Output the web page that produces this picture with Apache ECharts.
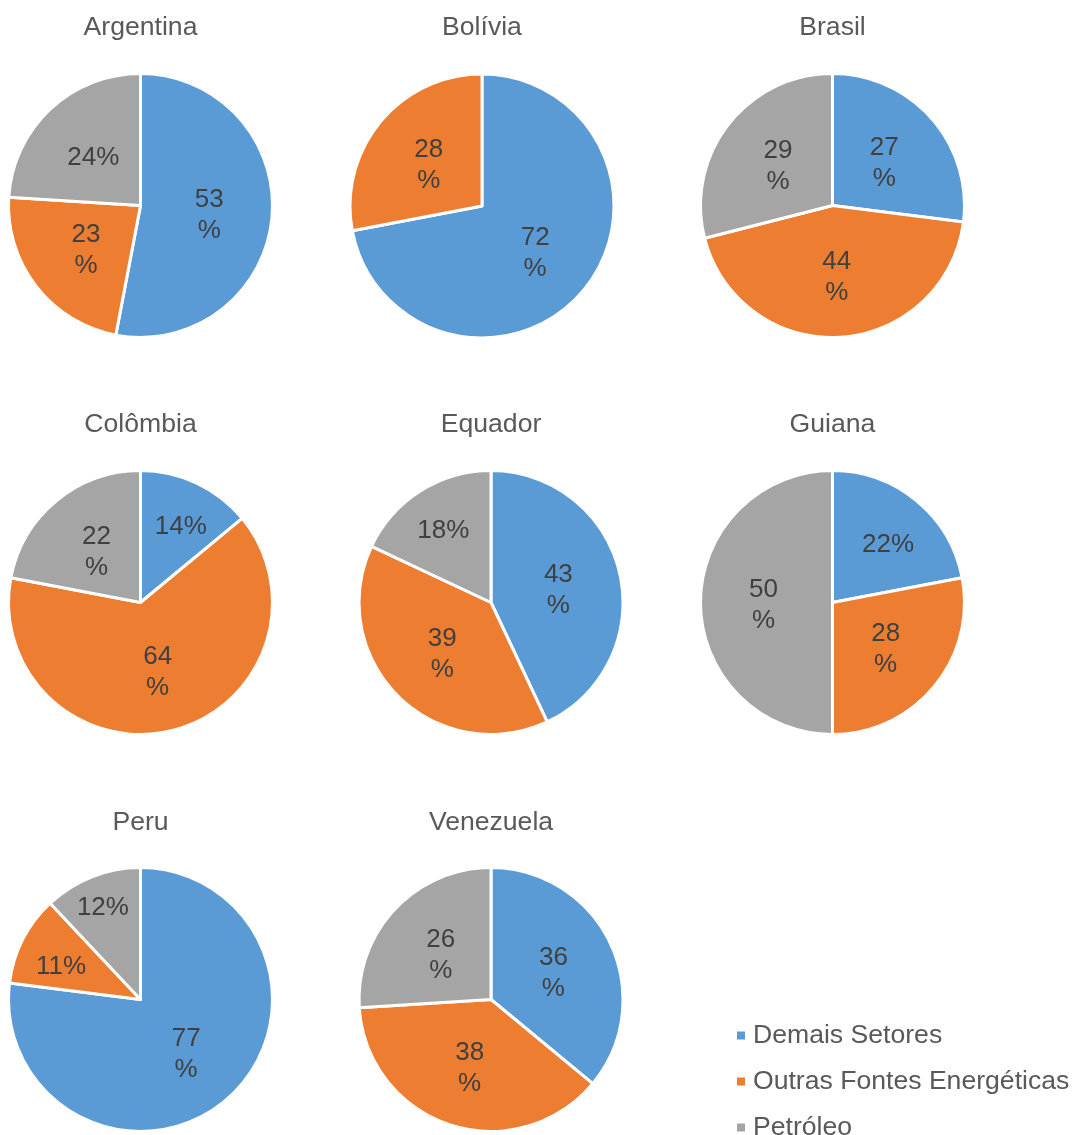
<!DOCTYPE html>
<html>
<head>
<meta charset="utf-8">
<script src="https://cdn.jsdelivr.net/npm/echarts@6/dist/echarts.min.js"></script>
<style>
html,body{margin:0;padding:0;background:#fff;}
#c{width:1075px;height:1135px;}
</style>
</head>
<body>
<div id="c"></div>
<script>
// ---- data ----
const countries = ['Argentina', 'Bolívia', 'Brasil', 'Colômbia', 'Equador', 'Guiana', 'Peru', 'Venezuela'];
const sectors = ['Demais Setores', 'Outras Fontes Energéticas', 'Petróleo'];
const demaisSetores = [53, 72, 27, 14, 43, 22, 77, 36];
const outrasFontes = [23, 28, 44, 64, 39, 28, 11, 38];
const petroleo = [24, 0, 29, 22, 18, 50, 12, 26];

// ---- styles / layout ----
const colors = ['#5B9BD5', '#ED7D31', '#A5A5A5'];
const FONT = '"Liberation Sans", Arial, sans-serif';
const centers = [[140.5, 205.5], [482, 206], [832.5, 205.5],
                 [140.5, 602.5], [491, 602.5], [832.5, 602.5],
                 [140.5, 999.5], [491, 999.5]];
const titleTop = [14, 14, 14, 411, 411, 411, 809, 809];
// labels shown on a single line (country index -> sector indices)
const singleLine = {0: [2], 3: [0], 4: [2], 5: [0], 6: [1, 2]};
// labels pushed outward (radial factor f, clockwise angle shift a in degrees)
const labelAdjust = {
  3: {0: {f: 1.28, a: 2}},
  4: {2: {f: 1.29, a: 0}},
  5: {0: {f: 1.19, a: 3}},
  6: {1: {f: 1.26, a: -3}, 2: {f: 1.48, a: 0}}
};
const labelShiftY = 3;

const series = [];
const seriesSectorIdx = [];
countries.forEach((c, i) => {
  const vals = [demaisSetores[i], outrasFontes[i], petroleo[i]];
  const items = [];
  const idxs = [];
  vals.forEach((v, k) => {
    if (v > 0) {
      const single = (singleLine[i] || []).indexOf(k) >= 0;
      items.push({
        name: sectors[k],
        value: v,
        itemStyle: {color: colors[k]},
        label: {formatter: single ? v + '%' : v + '\n%'}
      });
      idxs.push(k);
    }
  });
  seriesSectorIdx.push(idxs);
  series.push({
    type: 'pie',
    name: c,
    center: centers[i],
    radius: 132,
    startAngle: 90,
    clockwise: true,
    avoidLabelOverlap: false,
    silent: true,
    itemStyle: {borderColor: '#ffffff', borderWidth: 3},
    label: {
      show: true,
      position: 'inside',
      fontFamily: FONT,
      fontSize: 26,
      lineHeight: 31,
      color: '#404040'
    },
    labelLine: {show: false},
    emphasis: {disabled: true},
    data: items,
    labelLayout: function (p) {
      const adj = (labelAdjust[i] || {})[seriesSectorIdx[i][p.dataIndex]];
      if (!adj) return {dx: 0, dy: labelShiftY};
      const r = p.labelRect;
      const vx = r.x + r.width / 2 - centers[i][0];
      const vy = r.y + r.height / 2 - centers[i][1];
      const a = adj.a * Math.PI / 180;
      const nx = (vx * Math.cos(a) - vy * Math.sin(a)) * adj.f;
      const ny = (vx * Math.sin(a) + vy * Math.cos(a)) * adj.f;
      return {dx: nx - vx, dy: ny - vy + labelShiftY};
    }
  });
});

const titles = countries.map((c, i) => ({
  text: c,
  left: centers[i][0],
  top: titleTop[i],
  textAlign: 'center',
  padding: 0,
  textStyle: {fontFamily: FONT, fontSize: 26.6, fontWeight: 'normal', color: '#595959'}
}));

const chart = echarts.init(document.getElementById('c'), null, {renderer: 'canvas'});
chart.setOption({
  animation: false,
  backgroundColor: '#ffffff',
  title: titles,
  legend: {
    orient: 'vertical',
    left: 735,
    top: 1022,
    height: 300,
    width: 340,
    padding: 0,
    itemWidth: 10,
    itemHeight: 10,
    itemGap: 19,
    icon: 'rect',
    selectedMode: false,
    data: sectors,
    textStyle: {fontFamily: FONT, fontSize: 26.6, color: '#595959', padding: [0, 0, 0, 2]}
  },
  series: series
});
</script>
</body>
</html>
